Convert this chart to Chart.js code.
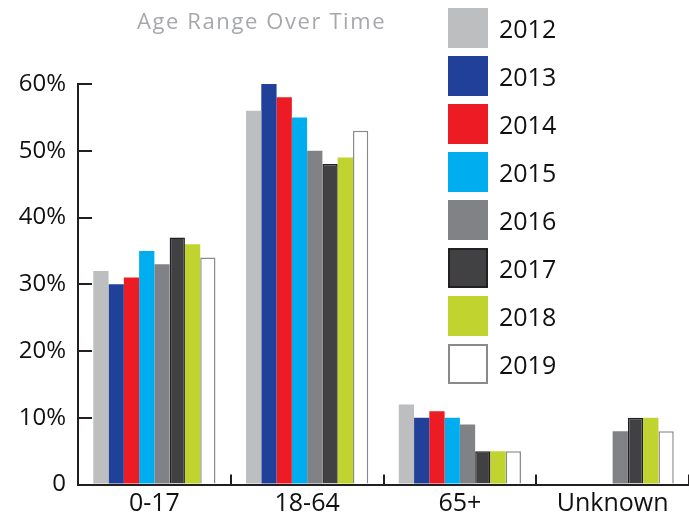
<!DOCTYPE html>
<html>
<head>
<meta charset="utf-8">
<script src="https://cdn.jsdelivr.net/npm/chart.js@4.4.0/dist/chart.umd.min.js"></script>
<style>
  html, body { margin: 0; padding: 0; background: #fff; }
  #wrap { position: relative; width: 689px; height: 525px; overflow: hidden; }
  #ageChart { position: absolute; left: 0; top: 0; }
  #title {
    position: absolute; left: 137px; top: 5px;
    font: 22px "Open Sans", sans-serif; letter-spacing: 1.6px; color: #a6a8ab;
  }
  #legend {
    position: absolute; left: 448px; top: 8px;
    display: flex; flex-direction: column; gap: 8px;
  }
  .item { display: flex; align-items: center; height: 40px; }
  .swatch { width: 40px; height: 40px; box-sizing: border-box; }
  .label { margin-left: 11px; font: 25px "Open Sans", sans-serif; color: #111; }
</style>
</head>
<body>
<div id="wrap">
  <canvas id="ageChart" width="689" height="525"></canvas>
  <div id="title">Age Range Over Time</div>
  <div id="legend"></div>
</div>
<script>
const categories = [`0-17`, `18-64`, `65+`, `Unknown`]
const years = [`2012`, `2013`, `2014`, `2015`, `2016`, `2017`, `2018`, `2019`]

// percent per category, one list per year
const v2012 = [32, 56, 12, 0]
const v2013 = [30, 60, 10, 0]
const v2014 = [31, 58, 11, 0]
const v2015 = [35, 55, 10, 0]
const v2016 = [33, 50, 9, 8]
const v2017 = [37, 48, 5, 10]
const v2018 = [36, 49, 5, 10]
const v2019 = [34, 53, 5, 8]

const yTicks = [0, 10, 20, 30, 40, 50, 60]

const series = [v2012, v2013, v2014, v2015, v2016, v2017, v2018, v2019]
const fills = [`#bcbec0`, `#21409a`, `#ed1c24`, `#00aeef`, `#808285`, `#414042`, `#c1d32f`, `#ffffff`]
const edges = [null, null, null, null, null, `#231f20`, null, `#8a8a8a`]

const ink = `#231f20`
const font = `"Open Sans", sans-serif`

// html legend, easier to place than the built-in one
const legendBox = document.querySelector(`#legend`)
years.forEach((year, i) => {
  const item = document.createElement(`div`)
  item.className = `item`
  const sw = document.createElement(`div`)
  sw.className = `swatch`
  sw.style.background = fills[i]
  if (edges[i]) sw.style.border = `2px solid ${edges[i]}`
  const lab = document.createElement(`div`)
  lab.className = `label`
  lab.textContent = year
  item.append(sw, lab)
  legendBox.append(item)
})

const data = {
  labels: categories,
  datasets: years.map((year, i) => ({
    label: year,
    data: series[i],
    backgroundColor: fills[i],
    borderColor: edges[i] || fills[i],
    borderWidth: edges[i] ? 1.5 : 0,
  })),
}

new Chart(document.querySelector(`#ageChart`), {
  type: `bar`,
  data,
  options: {
    responsive: false,
    animation: false,
    layout: { padding: { top: 84, right: -5, left: 0, bottom: 0 } },
    datasets: { bar: { categoryPercentage: 0.8, barPercentage: 1.0 } },
    scales: {
      x: {
        afterFit: (scale) => { scale.height = 31 },
        border: { color: ink, width: 2 },
        grid: {
          offset: true,
          drawOnChartArea: false,
          drawTicks: true,
          tickLength: -10,
          color: ink,
          lineWidth: 2,
        },
        ticks: { color: `#111`, padding: 14, font: { family: font, size: 25 } },
      },
      y: {
        min: 0,
        max: 60,
        afterFit: (scale) => { scale.width = 78 },
        afterBuildTicks: (scale) => { scale.ticks = yTicks.map((v) => ({ value: v })) },
        border: { color: ink, width: 2 },
        grid: {
          drawOnChartArea: false,
          drawTicks: true,
          tickLength: -14,
          color: ink,
          lineWidth: 2,
        },
        ticks: {
          color: `#111`,
          padding: 26,
          font: { family: font, size: 24 },
          callback: (v) => (v === 0 ? `0` : `${v}%`),
        },
      },
    },
    plugins: {
      legend: { display: false },
      title: { display: false },
      tooltip: { enabled: false },
    },
  },
})
</script>
</body>
</html>
